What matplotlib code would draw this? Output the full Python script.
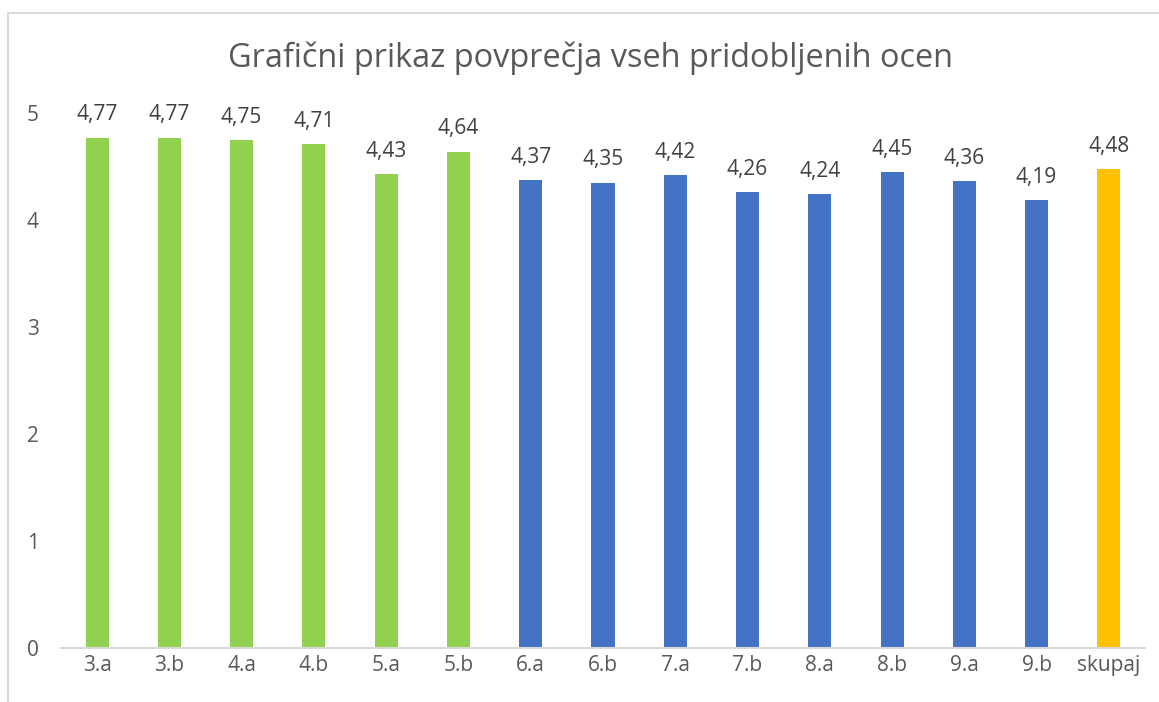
import matplotlib.pyplot as plt
from matplotlib.patches import Rectangle

categories = ['3.a', '3.b', '4.a', '4.b', '5.a', '5.b', '6.a', '6.b', '7.a', '7.b',
              '8.a', '8.b', '9.a', '9.b', 'skupaj']
values = [4.77, 4.77, 4.75, 4.71, 4.43, 4.64, 4.37, 4.35, 4.42, 4.26,
          4.24, 4.45, 4.36, 4.19, 4.48]
colors = ['#92D050'] * 6 + ['#4472C4'] * 8 + ['#FFC000']

plt.rcParams['font.family'] = ['Open Sans', 'DejaVu Sans']
text_color = '#595959'

fig = plt.figure(figsize=(11.59, 7.02), dpi=100)
ax = fig.add_axes([61 / 1159, 54 / 702, 1084 / 1159, 535 / 702])

x = range(len(categories))
bars = ax.bar(x, values, width=0.32, color=colors)

# data labels
for xi, v in zip(x, values):
    ax.text(xi, v + 0.16, f'{v:.2f}'.replace('.', ','), ha='center', va='baseline',
            fontsize=15, color='#404040', clip_on=False)

ax.set_xlim(-0.5, len(categories) - 0.5)
ax.set_ylim(0, 5)
ax.set_xticks(list(x))
ax.set_xticklabels(categories, fontsize=15, color=text_color)
ax.set_yticks(range(6))
ax.set_yticklabels([str(i) for i in range(6)], fontsize=15, color=text_color)
ax.tick_params(length=0, axis='x', pad=5)
ax.tick_params(length=0, axis='y', pad=16)
for s in ['top', 'right', 'left']:
    ax.spines[s].set_visible(False)
ax.spines['bottom'].set_color('#D9D9D9')
ax.spines['bottom'].set_linewidth(1.5)

fig.text(591 / 1159, 1 - 58 / 702, 'Grafični prikaz povprečja vseh pridobljenih ocen',
         ha='center', va='center', fontsize=23.4, color=text_color)

# chart frame (cut off at right and bottom)
fig.patches.append(Rectangle((8 / 1159, -0.05), 1.2, 1 - 13 / 702 + 0.05,
                             transform=fig.transFigure, fill=False,
                             edgecolor='#D9D9D9', linewidth=1.5))

fig.savefig('out.png', dpi=100)
